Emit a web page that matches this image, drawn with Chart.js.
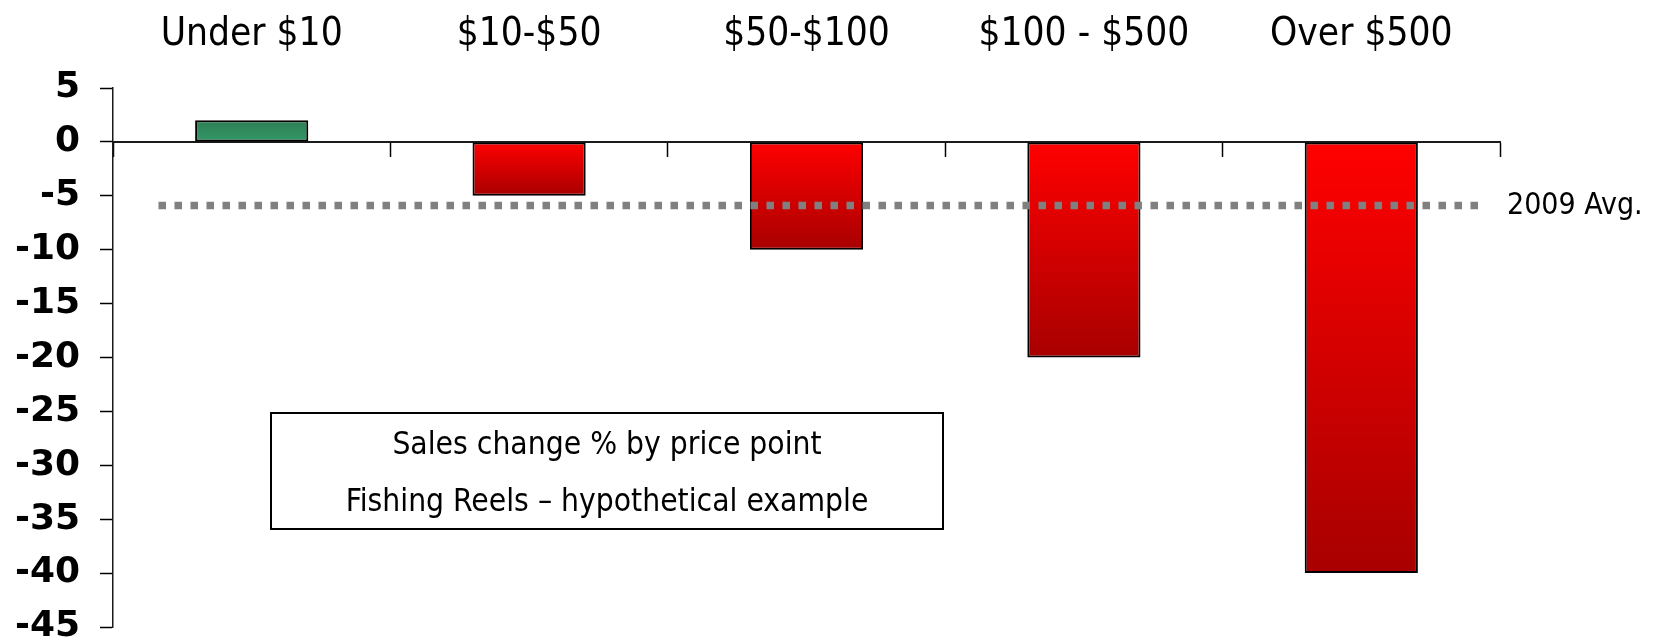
<!DOCTYPE html>
<html>
<head>
<meta charset="utf-8">
<title>Sales change % by price point</title>
<script src="https://cdn.jsdelivr.net/npm/chart.js@4.4.1/dist/chart.umd.min.js"></script>
<style>
  html, body { margin: 0; padding: 0; background: #ffffff; }
  #wrap { width: 1664px; height: 641px; }
</style>
</head>
<body>
<div id="wrap"><canvas id="chart" width="1664" height="641"></canvas></div>
<script>
// Price-point categories and the sales change (%) for each
const categories = ['Under $10', '$10-$50', '$50-$100', '$100 - $500', 'Over $500'];
const salesChange = [2, -5, -10, -20, -40];

// Value axis ticks
const yTicks = [5, 0, -5, -10, -15, -20, -25, -30, -35, -40, -45];

// Prior-year average reference line
const avgValue = -5.9;
const avgLabel = '2009 Avg.';

// Caption lines
const captionLines = ['Sales change % by price point', 'Fishing Reels \u2013 hypothetical example'];

const SANS = '"DejaVu Sans Condensed", "DejaVu Sans", "Liberation Sans", sans-serif';
const BOLD = '"DejaVu Sans", "Liberation Sans", sans-serif';

function barFill(ctx) {
  const chart = ctx.chart;
  const v = ctx.raw;
  if (!chart.chartArea) return v >= 0 ? '#31905F' : '#E00000';
  const y = chart.scales.y;
  const y0 = y.getPixelForValue(0);
  const y1 = y.getPixelForValue(v);
  const g = chart.ctx.createLinearGradient(0, Math.min(y0, y1), 0, Math.max(y0, y1));
  if (v >= 0) {
    g.addColorStop(0, '#2D7E55');
    g.addColorStop(1, '#339966');
  } else {
    g.addColorStop(0, '#FF0000');
    g.addColorStop(1, '#A80000');
  }
  return g;
}

// Dotted average line with its label, drawn on the value scale
const avgLinePlugin = {
  id: 'avgLine',
  afterDatasetsDraw(chart, args, opts) {
    const { ctx, scales } = chart;
    const yPix = scales.y.getPixelForValue(avgValue);
    const xFrom = scales.x.getPixelForValue(opts.from);
    const xTo = scales.x.getPixelForValue(opts.to);
    ctx.save();
    ctx.strokeStyle = '#808080';
    ctx.lineWidth = 7.5;
    ctx.lineCap = 'butt';
    ctx.setLineDash([7.5, 8.5]);
    ctx.beginPath();
    ctx.moveTo(xFrom, yPix);
    ctx.lineTo(xTo, yPix);
    ctx.stroke();
    ctx.setLineDash([]);
    ctx.fillStyle = '#000000';
    ctx.font = '30px ' + SANS;
    ctx.textAlign = 'left';
    ctx.textBaseline = 'middle';
    ctx.fillText(avgLabel, opts.labelX, yPix + 1);
    ctx.restore();
  }
};

// Boxed caption inside the plot
const captionPlugin = {
  id: 'caption',
  afterDraw(chart, args, opts) {
    const { ctx } = chart;
    const [bx, by, bw, bh] = opts.box;
    ctx.save();
    ctx.fillStyle = '#ffffff';
    ctx.fillRect(bx, by, bw, bh);
    ctx.strokeStyle = '#000000';
    ctx.lineWidth = 2;
    ctx.strokeRect(bx, by, bw, bh);
    ctx.fillStyle = '#000000';
    ctx.font = '31.5px ' + SANS;
    ctx.textAlign = 'center';
    ctx.textBaseline = 'alphabetic';
    captionLines.forEach((line, i) => {
      ctx.fillText(line, bx + bw / 2, opts.baselines[i]);
    });
    ctx.restore();
  }
};

new Chart(document.getElementById('chart'), {
  type: 'bar',
  data: {
    labels: categories,
    datasets: [{
      data: salesChange,
      backgroundColor: barFill,
      borderColor: '#000000',
      borderWidth: 2,
      borderSkipped: false,
      categoryPercentage: 1,
      barPercentage: 0.408
    }]
  },
  plugins: [avgLinePlugin, captionPlugin],
  options: {
    responsive: false,
    animation: false,
    events: [],
    layout: { padding: { left: 0, right: 164, top: 0, bottom: 14 } },
    plugins: {
      legend: { display: false },
      tooltip: { enabled: false },
      avgLine: { from: -0.336, to: 4.427, labelX: 1507 },
      caption: { box: [271, 413, 672, 116], baselines: [454, 511] }
    },
    scales: {
      x: {
        type: 'category',
        position: { y: 0 },
        offset: true,
        grid: {
          offset: true,
          drawOnChartArea: false,
          drawTicks: true,
          tickLength: 14,
          tickColor: '#000000',
          tickWidth: 1.5
        },
        border: { display: true, color: '#1a1a1a', width: 2 },
        ticks: { display: false },
        afterFit(s) { s.paddingLeft = 0; s.paddingRight = 0; s.paddingTop = 0; s.paddingBottom = 0; }
      },
      x2: {
        type: 'category',
        axis: 'x',
        position: 'top',
        offset: true,
        grid: { display: false, drawTicks: false },
        border: { display: false },
        ticks: {
          maxRotation: 0,
          autoSkip: false,
          padding: 30,
          color: '#000000',
          font: { family: SANS, size: 38.5 }
        },
        afterFit(s) { s.height = 88; s.paddingLeft = 0; s.paddingRight = 0; }
      },
      y: {
        type: 'linear',
        position: 'left',
        min: -45,
        max: 5,
        afterBuildTicks(s) { s.ticks = yTicks.map(v => ({ value: v })); },
        grid: {
          drawOnChartArea: false,
          drawTicks: true,
          tickLength: 13,
          tickColor: '#000000',
          tickWidth: 1.5
        },
        border: { display: true, color: '#1a1a1a', width: 1.5 },
        ticks: {
          padding: 20,
          color: '#000000',
          font: { family: BOLD, size: 36, weight: 'bold' }
        },
        afterFit(s) { s.width = 113; s.paddingTop = 0; s.paddingBottom = 0; }
      }
    }
  }
});
</script>
</body>
</html>
